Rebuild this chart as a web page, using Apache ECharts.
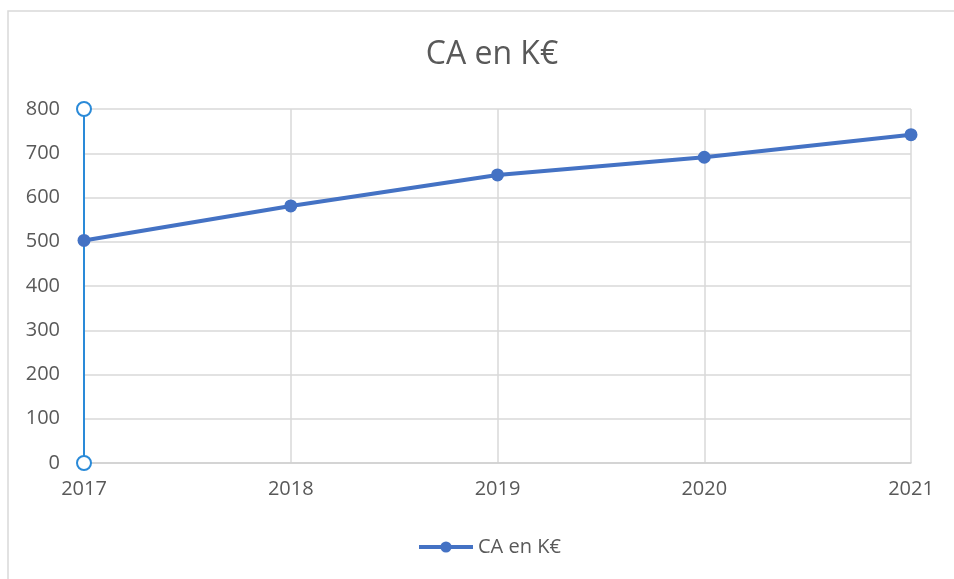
<!DOCTYPE html>
<html>
<head>
<meta charset="utf-8">
<script src="https://cdn.jsdelivr.net/npm/echarts@6/dist/echarts.min.js"></script>
<style>
    html, body { margin: 0; padding: 0; background: #ffffff; }
    #ca_chart { width: 954px; height: 579px; }
</style>
</head>
<body>
<div id="ca_chart"></div>
<script>
var years = ["2017", "2018", "2019", "2020", "2021"];
var ca_values = [503, 581, 651, 691, 742];
var y_min = 0, y_max = 800, y_step = 100;
var series_name = "CA en K€";

function load_ca_chart() {
    var ca_option = {
        animation: false,
        textStyle: {fontFamily: "Open Sans"},
        graphic: [{
            type: "rect",
            z: -10,
            shape: {x: 8, y: 11, width: 1000, height: 1000},
            style: {fill: "none", stroke: "#d9d9d9", lineWidth: 1.5}
        }],
        title: {
            text: series_name,
            left: 487,
            top: 34,
            textAlign: "center",
            textStyle: {color: "#595959", fontSize: 32, fontWeight: "normal", fontFamily: "Open Sans"}
        },
        legend: {
            top: 532,
            left: 412,
            itemWidth: 54,
            itemHeight: 14,
            itemGap: 4,
            lineStyle: {width: 4},
            textStyle: {color: "#595959", fontSize: 20, fontFamily: "Open Sans"},
            data: [series_name]
        },
        grid: {left: 84, right: 43, top: 109, bottom: 116},
        xAxis: {
            type: "category",
            data: years,
            boundaryGap: false,
            axisLine: {lineStyle: {color: "#d0d0d0", width: 1.5}},
            axisTick: {show: false},
            axisLabel: {color: "#595959", fontSize: 20, margin: 16},
            splitLine: {show: true, lineStyle: {color: "#d9d9d9", width: 1.5}}
        },
        yAxis: {
            type: "value",
            min: y_min,
            max: y_max,
            interval: y_step,
            axisLine: {
                show: true,
                symbol: ["emptyCircle", "emptyCircle"],
                symbolSize: [14, 14],
                lineStyle: {color: "#2a8ad8", width: 2}
            },
            axisTick: {show: false},
            axisLabel: {color: "#595959", fontSize: 20, margin: 24},
            splitLine: {lineStyle: {color: "#d9d9d9", width: 1.5}}
        },
        series: [{
            name: series_name,
            type: "line",
            data: ca_values,
            symbol: "circle",
            symbolSize: 13,
            z: 5,
            lineStyle: {color: "#4472c4", width: 4},
            itemStyle: {color: "#4472c4"}
        }]
    };
    var ca_chart = echarts.init(document.getElementById("ca_chart"));
    ca_chart.setOption(ca_option);
}

load_ca_chart();
</script>
</body>
</html>
